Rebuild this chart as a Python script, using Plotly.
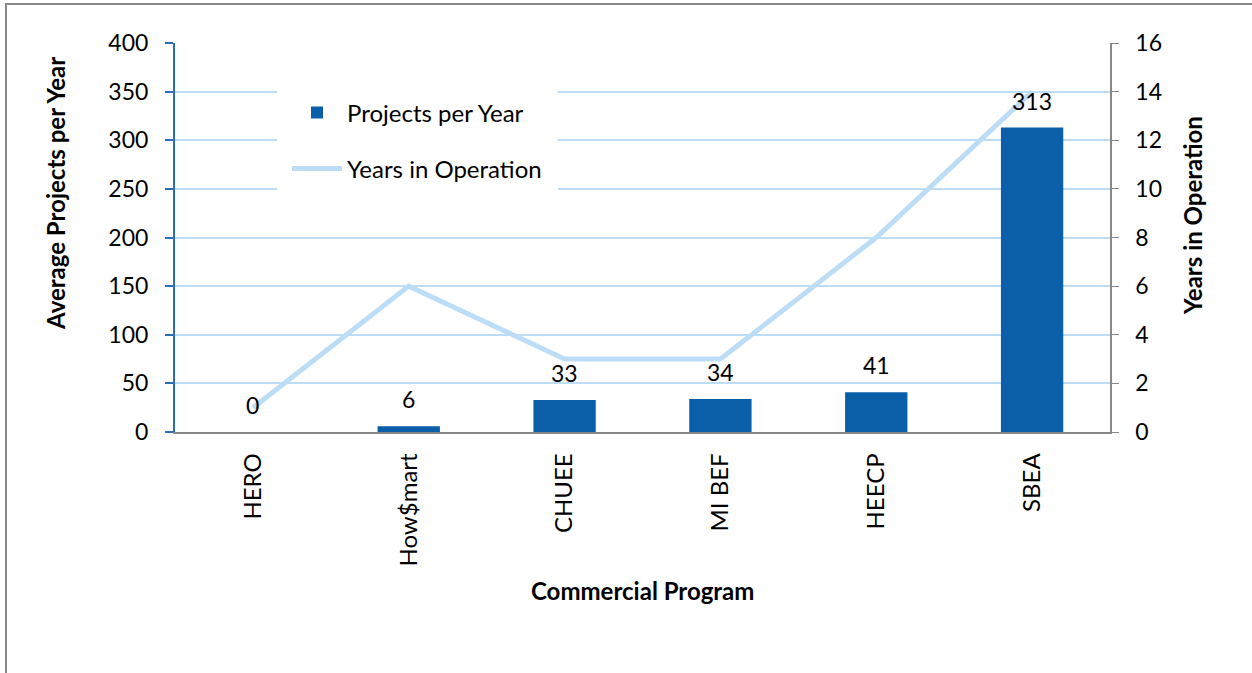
import plotly.graph_objects as go

categories = ["HERO", "How$mart", "CHUEE", "MI BEF", "HEECP", "SBEA"]
projects_per_year = [0, 6, 33, 34, 41, 313]
years_in_operation = [1, 6, 3, 3, 8, 14]
left_ticks = [0, 50, 100, 150, 200, 250, 300, 350, 400]
right_ticks = [0, 2, 4, 6, 8, 10, 12, 14, 16]

FONT = "Lato"
BAR = "#0B5EA8"
LINE = "#BDDDF6"
GRID = "#BDDDF6"
GRAY = "#888888"

W, H = 1252, 673
ML, MR, MT, MB = 175, 142, 43, 241
PW = W - ML - MR
PH = H - MT - MB

def px_x(p):
    return (p - ML) / PW

def px_y(p):
    return (H - MB - p) / PH

fig = go.Figure()
fig.add_trace(go.Bar(
    x=categories, y=projects_per_year, name="Projects per Year",
    marker=dict(color=BAR, line=dict(width=0)), width=0.4,
    legend="legend", yaxis="y",
))
fig.add_trace(go.Scatter(
    x=categories, y=years_in_operation, name="Years in Operation",
    mode="lines", line=dict(color=LINE, width=5),
    legend="legend2", yaxis="y2",
))

annotations = []
for c, v in zip(categories, projects_per_year):
    annotations.append(dict(
        x=c, y=v, xref="x", yref="y", text=str(v), showarrow=False,
        yanchor="middle", yshift=27, font=dict(family=FONT, size=23, color="#000000"),
    ))
annotations.append(dict(
    x=px_x(55), y=px_y(193), xref="paper", yref="paper", text="<b>Average Projects per Year</b>",
    showarrow=False, textangle=-90, xanchor="center", yanchor="middle",
    font=dict(family=FONT, size=24, color="#000000"),
))
annotations.append(dict(
    x=px_x(1193), y=px_y(216), xref="paper", yref="paper", text="<b>Years in Operation</b>",
    showarrow=False, textangle=-90, xanchor="center", yanchor="middle",
    font=dict(family=FONT, size=24, color="#000000"),
))
annotations.append(dict(
    x=0.5, y=px_y(590), xref="paper", yref="paper", text="<b>Commercial Program</b>",
    showarrow=False, xanchor="center", yanchor="middle",
    font=dict(family=FONT, size=24, color="#000000"),
))

shapes = [
    # outer frame
    dict(type="rect", xref="paper", yref="paper",
         x0=px_x(6), x1=px_x(1270), y0=px_y(4), y1=px_y(700),
         line=dict(color=GRAY, width=2), fillcolor="rgba(0,0,0,0)", layer="below"),
    # legend white background
    dict(type="rect", xref="paper", yref="paper",
         x0=px_x(277), x1=px_x(558), y0=px_y(78), y1=px_y(205),
         line=dict(width=0), fillcolor="white", layer="above"),
]

fig.update_layout(
    width=W, height=H,
    margin=dict(l=ML, r=MR, t=MT, b=MB, autoexpand=False),
    paper_bgcolor="white", plot_bgcolor="white",
    font=dict(family=FONT, size=23, color="#000000"),
    bargap=0.6,
    xaxis=dict(
        type="category", categoryorder="array", categoryarray=categories,
        tickangle=-90, showgrid=False, showline=True, linecolor=GRAY, linewidth=1.5,
        ticks="", tickfont=dict(family=FONT, size=24), ticklabelstandoff=10,
    ),
    yaxis=dict(
        range=[0, 400], tickvals=left_ticks, showgrid=True, gridcolor=GRID, gridwidth=1.5,
        showline=True, linecolor="#2A6EB8", linewidth=2, ticks="outside", ticklen=8,
        tickcolor="#2A6EB8", tickwidth=2, zeroline=False,
        tickfont=dict(family=FONT, size=23), ticklabelstandoff=12,
    ),
    yaxis2=dict(
        range=[0, 16], tickvals=right_ticks, overlaying="y", side="right",
        showgrid=False, showline=True, linecolor=GRAY, linewidth=1.5, ticks="outside",
        ticklen=7, tickcolor=GRAY, zeroline=False,
        tickfont=dict(family=FONT, size=23), ticklabelstandoff=12,
    ),
    legend=dict(
        x=px_x(287), y=px_y(113), xanchor="left", yanchor="middle",
        bgcolor="rgba(255,255,255,0)", font=dict(family=FONT, size=24),
        itemwidth=50,
    ),
    legend2=dict(
        x=px_x(287), y=px_y(169), xanchor="left", yanchor="middle",
        bgcolor="rgba(255,255,255,0)", font=dict(family=FONT, size=24),
        itemwidth=50,
    ),
    showlegend=True,
    annotations=annotations,
    shapes=shapes,
)

fig.write_html("out.html")
